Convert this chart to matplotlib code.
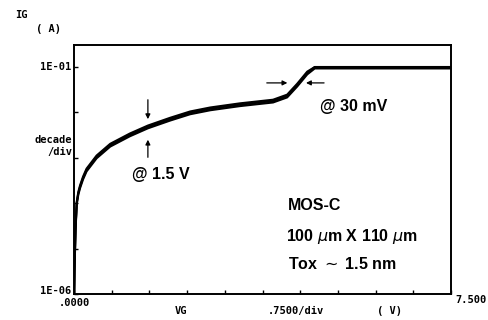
import numpy as np
import matplotlib
matplotlib.use("Agg")
from matplotlib import pyplot as plt

# gate current vs gate voltage
vg = [0.0, 0.01, 0.03, 0.054, 0.086, 0.12, 0.18, 0.25, 0.45, 0.72, 1.11,
      1.47, 1.91, 2.31, 2.71, 3.30, 3.96, 4.24, 4.44, 4.64, 4.79, 7.5]
ig = [5e-7, 3.4e-6, 2.6e-5, 1.0e-4, 1.66e-4, 2.3e-4, 3.6e-4, 5.4e-4, 1.05e-3,
      1.9e-3, 3.2e-3, 4.8e-3, 7.1e-3, 9.8e-3, 1.2e-2, 1.48e-2, 1.78e-2,
      2.3e-2, 4.0e-2, 7.4e-2, 0.1, 0.1]
# relative spread of repeated sweeps
sweep_scale = [0.93, 1.0, 1.07]
compliance = 0.1

mono = "DejaVu Sans Mono"
sans = "Liberation Sans"
W, H = 489, 320

fig = plt.figure(figsize=(4.89, 3.2), dpi=100)
ax = fig.add_axes([74 / W, 1 - 294 / H, 377 / W, 249 / H])

for s in sweep_scale:
    y = np.minimum(np.array(ig) * s, compliance)
    ax.plot(vg, y, color="black", lw=1.5)

ax.set_yscale("log")
ax.set_xlim(0, 7.5)
ax.set_ylim(1e-6, 10 ** -0.515)
ax.set_xticks(np.arange(0, 7.51, 0.75))
ax.set_yticks([1e-6, 1e-5, 1e-4, 1e-3, 1e-2, 1e-1])
ax.minorticks_off()
ax.tick_params(direction="in", length=3, width=1, labelleft=False,
               labelbottom=False)
for sp in ax.spines.values():
    sp.set_linewidth(1.4)


def px_text(x, y, s, ha="left", **kw):
    fig.text(x / W, 1 - y / H, s, ha=ha, va="center", **kw)


# instrument style labels
inst = dict(family=mono, weight="bold", fontsize=7.5)
px_text(15, 15, "IG", **inst)
px_text(36, 29, "( A)", **inst)
px_text(71, 67, "1E-01", ha="right", **inst)
px_text(72, 140, "decade", ha="right", **inst)
px_text(72, 152, "/div", ha="right", **inst)
px_text(71, 291, "1E-06", ha="right", **inst)
px_text(90, 303, ".0000", ha="right", **inst)
px_text(487, 300, "7.500", ha="right", **inst)
px_text(181, 311, "VG", ha="center", **inst)
px_text(296, 311, ".7500/div", ha="center", **inst)
px_text(390, 311, "( V)", ha="center", **inst)

# annotations
arrow = dict(arrowstyle="-|>", color="black", lw=0.9, mutation_scale=7)
ax.annotate("", xy=(1.47, 10 ** -2.21), xytext=(1.47, 10 ** -1.66),
            arrowprops=arrow)
ax.annotate("", xy=(1.47, 10 ** -2.54), xytext=(1.47, 10 ** -3.05),
            arrowprops=arrow)
ax.annotate("", xy=(4.30, 10 ** -1.35), xytext=(3.78, 10 ** -1.35),
            arrowprops=arrow)
ax.annotate("", xy=(4.56, 10 ** -1.35), xytext=(5.03, 10 ** -1.35),
            arrowprops=arrow)

note = dict(family=sans, weight="bold", fontsize=11.5)
px_text(132, 175, "@ 1.5 V", **note)
px_text(320, 106, "@ 30 mV", **note)
px_text(288, 206, "MOS-C", **note)
px_text(286, 236, "100 $\\mu$m X 110 $\\mu$m", **note)
px_text(288, 264, "Tox $\\sim$ 1.5 nm", **note)

fig.savefig("out.png", dpi=100)
